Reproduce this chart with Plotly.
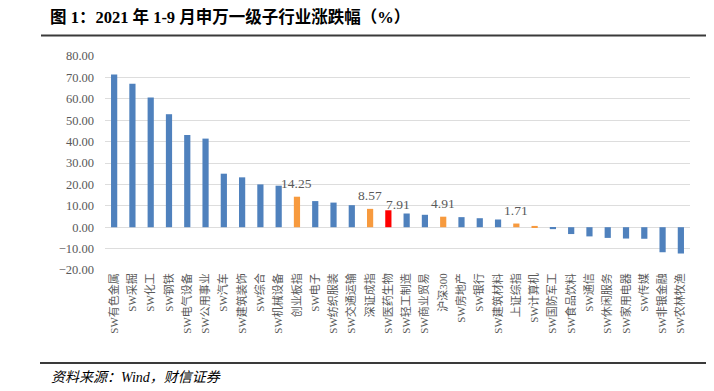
import plotly.graph_objects as go

categories = ["SW有色金属", "SW采掘", "SW化工", "SW钢铁", "SW电气设备", "SW公用事业", "SW汽车",
              "SW建筑装饰", "SW综合", "SW机械设备", "创业板指", "SW电子", "SW纺织服装", "SW交通运输",
              "深证成指", "SW医药生物", "SW轻工制造", "SW商业贸易", "沪深300", "SW房地产", "SW银行",
              "SW建筑材料", "上证综指", "SW计算机", "SW国防军工", "SW食品饮料", "SW通信", "SW休闲服务",
              "SW家用电器", "SW传媒", "SW非银金融", "SW农林牧渔"]
values = [71.3, 67.0, 60.6, 52.8, 43.1, 41.4, 25.0, 23.3, 20.0, 19.4, 14.25, 12.2, 11.5, 10.3,
          8.57, 7.91, 6.4, 5.8, 4.91, 4.7, 4.2, 3.6, 1.71, 0.6, -0.9, -3.2, -4.3, -5.0,
          -5.3, -5.4, -11.7, -12.3]
# bar group: "sw" industry, "idx" market index, "hl" highlighted industry
groups = ["sw"] * 10 + ["idx"] + ["sw"] * 3 + ["idx", "hl"] + ["sw"] * 2 + ["idx"] + ["sw"] * 3 + ["idx", "idx"] + ["sw"] * 8
labels = {"创业板指": "14.25", "深证成指": "8.57", "SW医药生物": "7.91", "沪深300": "4.91", "上证综指": "1.71"}
y_ticks = [-20, -10, 0, 10, 20, 30, 40, 50, 60, 70, 80]

color_map = {"sw": "#4F81BD", "idx": "#F79A3E", "hl": "#FF0000"}
colors = [color_map[g] for g in groups]

# The page body adds an 8px offset; positions below are in window pixels.
OFF = 8
W, H = 714, 391
plot_left, plot_right, plot_top, plot_bottom = 105, 690, 56, 270
L = plot_left - OFF
T = plot_top - OFF
R = W - (plot_right - OFF)
B = H - (plot_bottom - OFF)
pw, ph = plot_right - plot_left, plot_bottom - plot_top


def px(x):
    return (x - plot_left) / pw


def py(y):
    return (plot_bottom - y) / ph


serif = "Times New Roman, Liberation Serif, Noto Sans CJK SC, serif"
grey = "#595959"

fig = go.Figure(go.Bar(
    x=categories, y=values, marker=dict(color=colors, line=dict(width=0)),
    width=0.34, hoverinfo="x+y",
))

annotations = []
for cat, txt in labels.items():
    i = categories.index(cat)
    special = cat == "SW医药生物"
    annotations.append(dict(
        x=cat, y=values[i], text=txt, showarrow=False, xref="x", yref="y",
        yanchor="middle", yshift=6 if special else 13.5, xshift=10 if special else 0,
        font=dict(family=serif, size=13.5, color=grey),
    ))

annotations.append(dict(
    x=px(48), y=py(17), xref="paper", yref="paper", xanchor="left", yanchor="middle",
    text="<b>图 1：2021 年 1-9 月申万一级子行业涨跌幅（%）</b>", showarrow=False,
    font=dict(family=serif, size=16.5, color="#000000"),
))
annotations.append(dict(
    x=px(49), y=py(377), xref="paper", yref="paper", xanchor="left", yanchor="middle",
    text="<i>资料来源：Wind，财信证券</i>", showarrow=False,
    font=dict(family=serif, size=14, color="#000000"),
))

shapes = [
    dict(type="line", xref="paper", yref="paper", x0=px(41), x1=px(714), y0=py(35.5), y1=py(35.5),
         line=dict(color="#3a3a3a", width=2)),
    dict(type="line", xref="paper", yref="paper", x0=px(40), x1=px(714), y0=py(363), y1=py(363),
         line=dict(color="#3a3a3a", width=2)),
]

fig.update_layout(
    width=W, height=H,
    margin=dict(l=L, r=R, t=T, b=B),
    paper_bgcolor="white", plot_bgcolor="white",
    showlegend=False,
    annotations=annotations, shapes=shapes,
    xaxis=dict(
        type="category", tickangle=-90, showgrid=False, showline=False, zeroline=False,
        tickfont=dict(family=serif, size=11, color=grey), ticks="",
    ),
    yaxis=dict(
        range=[-20, 80], tickvals=y_ticks, tickformat=".2f", showgrid=True,
        gridcolor="#DDDDDD", gridwidth=1.3, zeroline=False, showline=False,
        tickfont=dict(family=serif, size=12.5, color=grey), ticklabelstandoff=10,
    ),
)

fig.write_html("out.html")
